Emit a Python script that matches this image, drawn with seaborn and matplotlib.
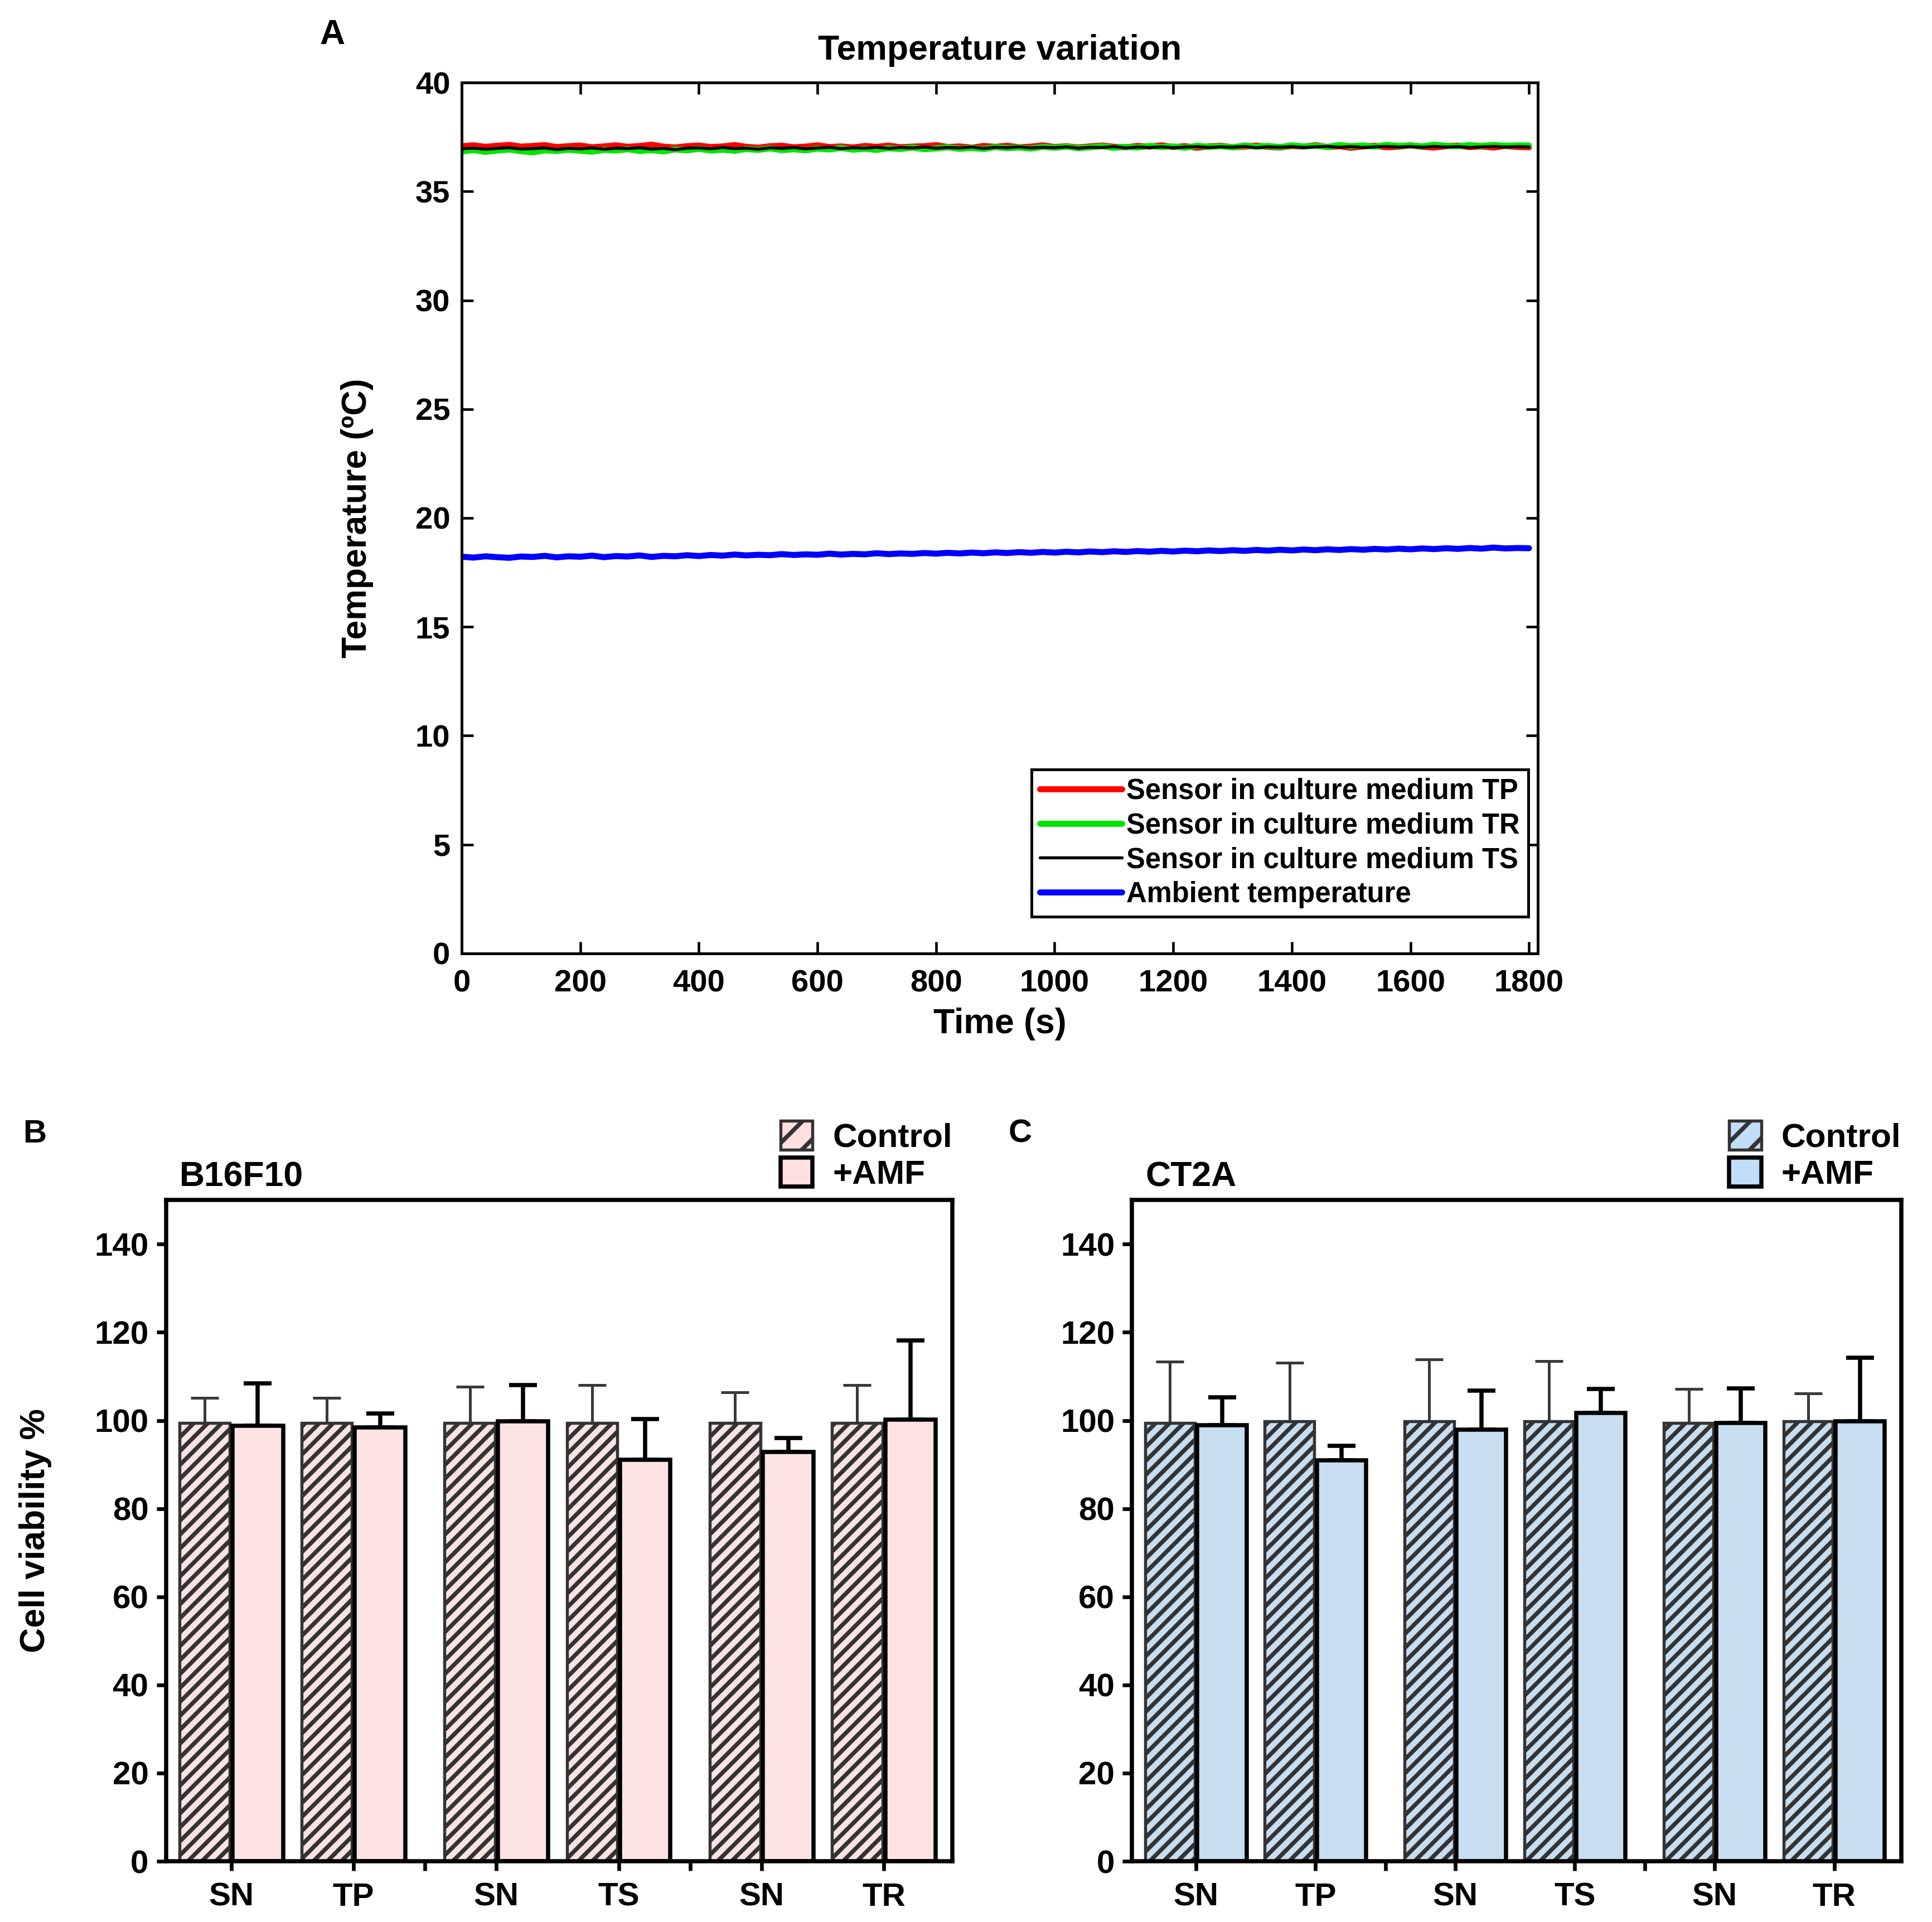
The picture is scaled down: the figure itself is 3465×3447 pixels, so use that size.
import numpy as np
import pandas as pd
import matplotlib
matplotlib.use('Agg')
import matplotlib.pyplot as plt
from matplotlib.patches import Patch
import seaborn as sns

# ---- panel A: temperature log, one reading every 20 s ----
time_s = np.arange(0, 1801, 20)

temp_tp = [37.08, 37.12, 37.05, 37.10, 37.14, 37.06, 37.09, 37.13, 37.04, 37.08,
           37.11, 37.03, 37.07, 37.12, 37.05, 37.09, 37.15, 37.06, 37.02, 37.08,
           37.11, 37.04, 37.07, 37.13, 37.05, 37.01, 37.08, 37.10, 37.03, 37.06,
           37.12, 37.04, 37.07, 37.02, 37.09, 37.05, 37.11, 37.03, 37.06, 37.08,
           37.13, 37.04, 37.07, 37.01, 37.09, 37.05, 37.10, 37.03, 37.06, 37.12,
           37.04, 37.08, 37.02, 37.07, 37.11, 37.05, 37.03, 37.09, 37.06, 37.12,
           37.04, 37.08, 37.01, 37.07, 37.10, 37.03, 37.06, 37.11, 37.05, 37.02,
           37.09, 37.06, 37.13, 37.04, 37.08, 37.01, 37.07, 37.10, 37.03, 37.06,
           37.12, 37.05, 37.02, 37.08, 37.11, 37.04, 37.07, 37.02, 37.09, 37.05,
           37.03]

temp_tr = [36.84, 36.90, 36.82, 36.88, 36.93, 36.85, 36.80, 36.89, 36.86, 36.92,
           36.87, 36.83, 36.91, 36.88, 36.94, 36.86, 36.90, 36.84, 36.93, 36.89,
           36.96, 36.88, 36.92, 36.87, 36.95, 36.91, 36.98, 36.90, 36.94, 36.89,
           36.97, 36.93, 37.00, 36.92, 36.96, 36.91, 36.99, 36.95, 37.02, 36.94,
           36.98, 37.03, 36.96, 37.00, 36.95, 37.04, 36.99, 37.02, 36.97, 37.05,
           37.01, 37.06, 36.99, 37.03, 37.08, 37.00, 37.05, 37.02, 37.09, 37.04,
           37.07, 37.01, 37.10, 37.05, 37.08, 37.03, 37.11, 37.06, 37.09, 37.04,
           37.12, 37.07, 37.10, 37.05, 37.13, 37.08, 37.11, 37.06, 37.14, 37.09,
           37.12, 37.07, 37.15, 37.10, 37.08, 37.13, 37.09, 37.14, 37.10, 37.12,
           37.11]

temp_ts = [36.96, 36.99, 36.94, 36.98, 37.01, 36.95, 36.97, 37.00, 36.93, 36.98,
           36.96, 37.00, 36.94, 36.99, 36.97, 37.01, 36.95, 36.98, 36.92, 36.99,
           37.00, 36.96, 37.02, 36.97, 36.99, 36.94, 37.01, 36.98, 37.02, 36.96,
           37.00, 37.03, 36.97, 37.01, 36.99, 37.03, 36.98, 37.02, 37.00, 37.04,
           36.99, 37.02, 37.00, 37.04, 36.98, 37.03, 37.01, 37.05, 37.00, 37.03,
           37.01, 37.05, 36.99, 37.03, 37.02, 37.06, 37.00, 37.04, 37.02, 37.05,
           37.01, 37.04, 37.06, 37.02, 37.05, 37.03, 37.07, 37.01, 37.05, 37.03,
           37.06, 37.02, 37.05, 37.07, 37.03, 37.06, 37.02, 37.05, 37.07, 37.04,
           37.06, 37.03, 37.07, 37.04, 37.06, 37.02, 37.05, 37.07, 37.04, 37.06,
           37.05]

temp_amb = [18.22, 18.18, 18.24, 18.20, 18.17, 18.23, 18.21, 18.26, 18.19, 18.24,
            18.22, 18.27, 18.20, 18.25, 18.23, 18.28, 18.21, 18.26, 18.24, 18.29,
            18.25, 18.30, 18.27, 18.32, 18.28, 18.31, 18.29, 18.34, 18.30, 18.33,
            18.31, 18.36, 18.32, 18.35, 18.33, 18.38, 18.34, 18.37, 18.35, 18.39,
            18.36, 18.40, 18.37, 18.41, 18.38, 18.42, 18.39, 18.43, 18.40, 18.44,
            18.41, 18.45, 18.42, 18.46, 18.43, 18.47, 18.44, 18.48, 18.45, 18.49,
            18.46, 18.50, 18.47, 18.51, 18.48, 18.52, 18.49, 18.53, 18.50, 18.54,
            18.51, 18.55, 18.52, 18.56, 18.53, 18.57, 18.54, 18.58, 18.55, 18.59,
            18.56, 18.60, 18.57, 18.61, 18.58, 18.62, 18.59, 18.64, 18.60, 18.62,
            18.61]

# ---- panels B / C: cell viability (%), mean and upper SD ----
site_labels = ['SN', 'TP', 'SN', 'TS', 'SN', 'TR']
conditions = ['Control', '+AMF']

b16_ctrl = [99.5, 99.5, 99.5, 99.5, 99.5, 99.5]
b16_ctrl_sd = [5.6, 5.6, 8.2, 8.5, 6.9, 8.5]
b16_amf = [98.8, 98.4, 99.8, 91.1, 92.9, 100.2]
b16_amf_sd = [9.6, 3.2, 8.3, 9.2, 3.1, 18.0]

ct2a_ctrl = [99.5, 99.8, 99.8, 99.8, 99.5, 99.8]
ct2a_ctrl_sd = [13.8, 13.3, 14.0, 13.7, 7.6, 6.4]
ct2a_amf = [98.9, 90.9, 97.9, 101.7, 99.4, 99.8]
ct2a_amf_sd = [6.4, 3.3, 8.9, 5.5, 7.9, 14.5]

sns.set_theme(style='ticks')
plt.rcParams['font.family'] = ['Liberation Sans', 'DejaVu Sans']
plt.rcParams['font.weight'] = 'bold'
plt.rcParams['axes.labelweight'] = 'bold'
plt.rcParams['axes.titleweight'] = 'bold'
for key in ['text.color', 'axes.labelcolor', 'xtick.color', 'ytick.color',
            'axes.edgecolor']:
    plt.rcParams[key] = 'black'
plt.rcParams['hatch.color'] = '#2a2a2a'
plt.rcParams['hatch.linewidth'] = 1.8

fig = plt.figure(figsize=(11.55, 11.49), dpi=300)
axA = fig.add_axes([0.239, 0.504, 0.557, 0.453])
axB = fig.add_axes([0.0859, 0.0316, 0.407, 0.344])
axC = fig.add_axes([0.586, 0.0316, 0.398, 0.344])

# ----- A: temperature traces -----
traces = [(temp_tp, 'Sensor in culture medium TP', '#ff0000', 2.6),
          (temp_tr, 'Sensor in culture medium TR', '#00e600', 2.6),
          (temp_ts, 'Sensor in culture medium TS', 'black', 1.3),
          (temp_amb, 'Ambient temperature', '#0000ff', 2.6)]
for vals, lab, col, lw in traces:
    sns.lineplot(x=time_s, y=vals, color=col, lw=lw, label=lab, ax=axA)

axA.set_xlim(0, 1815)
axA.set_ylim(0, 40)
axA.set_xticks(range(0, 1801, 200))
axA.set_yticks(range(0, 41, 5))
axA.tick_params(direction='in', top=True, right=True, length=5, width=1.1,
                labelsize=13.5)
axA.tick_params(axis='x', pad=7)
axA.tick_params(axis='y', pad=5)
for s in axA.spines.values():
    s.set_linewidth(1.2)
axA.set_title('Temperature variation', fontsize=15, pad=10)
axA.set_xlabel('Time (s)', fontsize=15)
axA.set_ylabel('Temperature (ºC)', fontsize=15)
axA.xaxis.set_label_coords(0.5, -0.062)
axA.yaxis.set_label_coords(-0.082, 0.5)
leg = axA.legend(loc='lower right', bbox_to_anchor=(0.991, 0.042), frameon=True,
                 fancybox=False, edgecolor='black', framealpha=1, fontsize=12.2,
                 handlelength=2.9, handletextpad=0.15, labelspacing=0.25,
                 borderpad=0.3, borderaxespad=0)
leg.get_frame().set_linewidth(1.2)
fig.text(0.172, 0.982, 'A', fontsize=15, ha='center', va='center')


# ----- B / C: viability bars -----
def bar_panel(ax, ctrl, ctrl_sd, amf, amf_sd, fill, cell):
    pos = [grp * 2.17 + k for grp in range(3) for k in range(2)]
    df = pd.DataFrame({'pos': pos * 2,
                       'cond': ['Control'] * 6 + ['+AMF'] * 6,
                       'viab': ctrl + amf})
    sns.barplot(data=df, x='pos', y='viab', hue='cond', hue_order=conditions,
                palette=[fill, fill], native_scale=True, width=0.87, gap=0.05,
                errorbar=None, legend=False, ax=ax)
    for p in ax.containers[0]:
        p.set_hatch('////')
        p.set_edgecolor('#333333')
        p.set_linewidth(1.3)
    for p in ax.containers[1]:
        p.set_edgecolor('black')
        p.set_linewidth(1.8)
    for cont, sd, col, lw in [(ax.containers[0], ctrl_sd, '#3a3a3a', 1.2),
                              (ax.containers[1], amf_sd, 'black', 1.8)]:
        xs = [p.get_x() + p.get_width() / 2 for p in cont]
        ys = [p.get_height() for p in cont]
        ax.errorbar(xs, ys, yerr=[np.zeros(len(sd)), sd], fmt='none', ecolor=col,
                    elinewidth=lw, capsize=6, capthick=lw, zorder=0.9)

    ax.set_xlim(pos[0] - 0.534, pos[-1] + 0.56)
    ax.set_ylim(0, 150)
    ax.set_yticks(range(0, 141, 20))
    ax.set_xticks(pos)
    ax.set_xticklabels(site_labels)
    ax.set_xticks([(pos[1] + pos[2]) / 2, (pos[3] + pos[4]) / 2], minor=True)
    ax.tick_params(axis='both', which='both', direction='out', length=4,
                   width=1.6, labelsize=14)
    ax.tick_params(axis='x', pad=5)
    ax.tick_params(axis='y', pad=3.5)
    for s in ax.spines.values():
        s.set_visible(True)
        s.set_linewidth(1.8)
    ax.set_xlabel('')
    ax.set_ylabel('')
    ax.text(0.017, 1.035, cell, transform=ax.transAxes, fontsize=15,
            ha='left', va='center')
    handles = [Patch(facecolor=fill, edgecolor='#333333', hatch='//', lw=1.3,
                     label='Control'),
               Patch(facecolor=fill, edgecolor='black', lw=1.8, label='+AMF')]
    ax.legend(handles=handles, loc='lower right', bbox_to_anchor=(1.0, 1.015),
              frameon=False, fontsize=14.5, handlelength=0.95, handleheight=0.95,
              handletextpad=0.6, labelspacing=0.12, borderaxespad=0,
              borderpad=0)


bar_panel(axB, b16_ctrl, b16_ctrl_sd, b16_amf, b16_amf_sd, '#ffdfdf', 'B16F10')
bar_panel(axC, ct2a_ctrl, ct2a_ctrl_sd, ct2a_amf, ct2a_amf_sd, '#c0def7', 'CT2A')

axB.set_ylabel('Cell viability %', fontsize=15)
axB.yaxis.set_label_coords(-0.145, 0.5)

fig.text(0.018, 0.410, 'B', fontsize=14, ha='center', va='center')
fig.text(0.528, 0.410, 'C', fontsize=14, ha='center', va='center')

fig.savefig('out.png', dpi=300)
